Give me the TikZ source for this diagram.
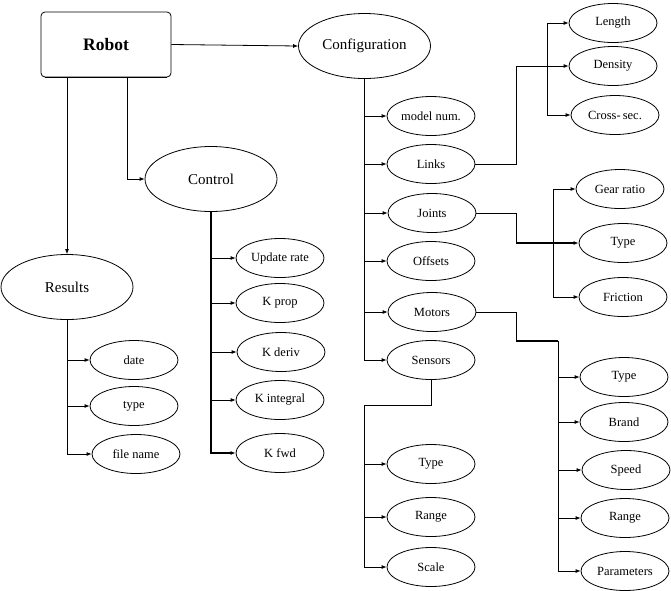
\documentclass[tikz,border=0pt]{standalone}
\usepackage{fontspec}
\setmainfont{Liberation Serif}
\usetikzlibrary{shapes.geometric,arrows.meta}
\tikzset{
  rootbox/.style={draw, rounded corners=4pt, minimum width=130pt, minimum height=65pt, inner sep=0pt, font=\fontsize{17.5}{20}\selectfont\bfseries},
  branch/.style={draw, ellipse, minimum width=132pt, minimum height=65pt, inner sep=0pt, font=\fontsize{15}{18}\selectfont},
  leaf/.style={draw, ellipse, minimum width=88pt, minimum height=39pt, inner sep=0pt, font=\fontsize{12.5}{15}\selectfont},
  heavy/.style={line width=1.8pt}
}
\begin{document}
\begin{tikzpicture}[x=1pt, y=-1pt, line width=0.8pt, >={Latex[length=5pt,width=4pt]}]
  \useasboundingbox (0,0) rectangle (671,590);

  % Hauptknoten
  \node[rootbox] (robot) at (106,44.5) {Robot};
  \node[branch] (config) at (364.5,46) {Configuration};
  \node[branch] (control) at (211,179) {Control};
  \node[branch] (results) at (67,287) {Results};

  % Configuration
  \node[leaf] (model) at (431,116) {model num.};
  \node[leaf] (links) at (431,164) {Links};
  \node[leaf] (joints) at (432,213) {Joints};
  \node[leaf] (offsets) at (431,261) {Offsets};
  \node[leaf] (motors) at (432,312) {Motors};
  \node[leaf] (sensors) at (431,360) {Sensors};

  % Links
  \node[leaf] (length) at (613,23) {Length};
  \node[leaf] (density) at (613,66) {Density};
  \node[leaf] (cross) at (615,115) {Cross-\,sec.};

  % Joints
  \node[leaf] (gear) at (620,189) {Gear ratio};
  \node[leaf] (jtype) at (623,243) {Type};
  \node[leaf] (friction) at (623,297) {Friction};

  % Motors
  \node[leaf] (mtype) at (624,377) {Type};
  \node[leaf] (brand) at (624,422) {Brand};
  \node[leaf] (speed) at (626,470) {Speed};
  \node[leaf] (mrange) at (625,518) {Range};
  \node[leaf] (params) at (625,571) {Parameters};

  % Sensors
  \node[leaf] (stype) at (431,464) {Type};
  \node[leaf] (srange) at (431,517) {Range};
  \node[leaf] (scale) at (431,567) {Scale};

  % Control
  \node[leaf] (update) at (280,258) {Update rate};
  \node[leaf] (kprop) at (280,303) {K prop};
  \node[leaf] (kderiv) at (281,352) {K deriv};
  \node[leaf] (kint) at (280,400) {K integral};
  \node[leaf] (kfwd) at (280,453) {K fwd};

  % Results
  \node[leaf] (date) at (134,360) {date};
  \node[leaf] (rtype) at (134,406) {type};
  \node[leaf] (fname) at (136,454) {file name};

  % Hilfspunkte
  \coordinate (linkturn) at (516,66);
  \coordinate (lbtop) at (547,23);
  \coordinate (lbbot) at (547,115);
  \coordinate (jturn) at (516,243);
  \coordinate (jbtop) at (553,189);
  \coordinate (jbbot) at (553,297);
  \coordinate (mturn) at (516,341);
  \coordinate (mtop) at (558,341);
  \coordinate (sturn) at (364,405);

  % Verbindungen Robot
  \draw[heavy] ([xshift=4pt]robot.south west) -- ([xshift=-4pt]robot.south east);
  \draw[->] (robot.east) -- (config.west);
  \draw[->] ([xshift=21pt]robot.south) |- (control.west);
  \draw[->] (robot.south -| results.north) -- (results.north);

  % Configuration
  \draw[->] (config.south) |- (sensors.west);
  \foreach \n in {model,links,joints,offsets,motors}
    \draw[->] (config.south |- \n.west) -- (\n.west);

  % Links
  \draw (links.east) -| (linkturn);
  \draw[->] (linkturn) -- (density.west);
  \draw (lbtop) -- (lbbot);
  \draw[->] (lbtop) -- (length.west);
  \draw[->] (lbbot) -- (cross.west);

  % Joints
  \draw (joints.east) -| (jturn);
  \draw[->, heavy] (jturn) -- (jtype.west);
  \draw (jbtop) -- (jbbot);
  \draw[->] (jbtop) -- (gear.west);
  \draw[->] (jbbot) -- (friction.west);

  % Motors
  \draw (motors.east) -| (mturn);
  \draw[heavy] (mturn) -- (mtop);
  \draw[->] (mtop) |- (params.west);
  \foreach \n in {mtype,brand,speed,mrange}
    \draw[->] (mtop |- \n.west) -- (\n.west);

  % Sensors
  \draw (sensors.south) |- (sturn);
  \draw[->] (sturn) |- (scale.west);
  \foreach \n in {stype,srange}
    \draw[->] (sturn |- \n.west) -- (\n.west);

  % Control
  \draw[->, heavy] (control.south) |- (kfwd.west);
  \foreach \n in {update,kprop,kderiv,kint}
    \draw[->] (control.south |- \n.west) -- (\n.west);

  % Results
  \draw[->] (results.south) |- (fname.west);
  \foreach \n in {date,rtype}
    \draw[->] (results.south |- \n.west) -- (\n.west);
\end{tikzpicture}
\end{document}
